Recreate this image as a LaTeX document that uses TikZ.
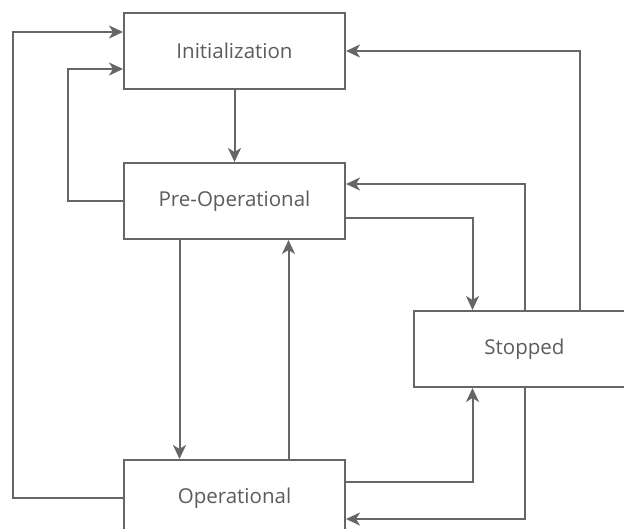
\documentclass[tikz,border=0pt]{standalone}
\usepackage{fontspec}
\setmainfont{Open Sans}
\usetikzlibrary{positioning,arrows.meta}
\definecolor{linegray}{HTML}{666666}
\definecolor{textgray}{HTML}{5C5C5C}

\begin{document}
\begin{tikzpicture}[x=1pt, y=-1pt, >={Stealth[length=14pt,width=13pt,inset=4pt]},
    node distance=72pt]
    \tikzstyle{every node}=[text=textgray, font=\fontsize{20.5}{24}\selectfont]
    \tikzstyle{statebox}=[draw=linegray, line width=2pt, fill=white, rectangle,
    minimum width=221pt, minimum height=76pt, inner sep=0pt]
    \tikzstyle{flow}=[->, draw=linegray, line width=2pt]

    \clip (0,0) rectangle (624,529);
    \useasboundingbox (0,0) rectangle (624,529);

    \node[statebox] (init) at (234.5,51) {Initialization};
    \node[statebox] (pre) [below=of init] {Pre-Operational};
    \node[statebox] (op) [below=219pt of pre] {Operational};
    \node[statebox] (stop) at (524.5,349) {Stopped};

    \draw[flow] (init) -- (pre);
    \draw[flow] (pre.west) -- ++(-55,0) |- ([yshift=-18pt]init.west);
    \draw[flow] (op.west) -- ++(-110,0) |- ([yshift=19pt]init.west);
    \draw[flow] ([xshift=-55pt]pre.south) -- ([xshift=-55pt]op.north);
    \draw[flow] ([xshift=54pt]op.north) -- ([xshift=54pt]pre.south);
    \draw[flow] ([yshift=-17pt]pre.east) -| ([xshift=-52pt]stop.north);
    \draw[flow] (stop.north) |- ([yshift=17pt]pre.east);
    \draw[flow] ([xshift=55pt]stop.north) |- (init.east);
    \draw[flow] ([yshift=16pt]op.east) -| ([xshift=-52pt]stop.south);
    \draw[flow] (stop.south) |- ([yshift=-21pt]op.east);
\end{tikzpicture}
\end{document}
